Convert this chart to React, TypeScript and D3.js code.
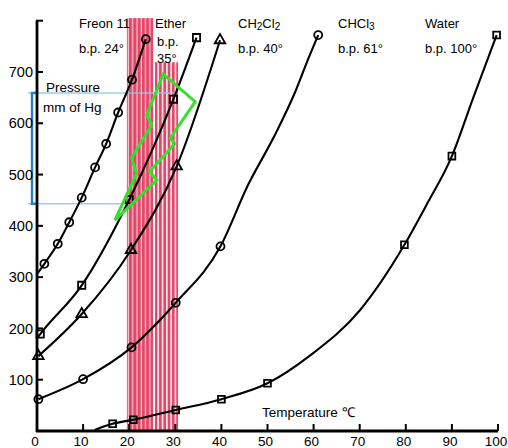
import React, { useEffect, useRef } from 'react';
import * as d3 from 'd3';

// temperature (°C) / vapour pressure (mm Hg)
const freonT = [1.6, 4.5, 7, 9.7, 12.6, 15, 17.6, 20.6, 23.6];
const freonP = [326, 365, 407, 455, 514, 560, 621, 685, 764];
const freonLineT = [0];
const freonLineP = [306];

const etherT = [0.7, 9.7, 20, 29.6, 34.6];
const etherP = [189, 284, 451, 647, 767];
const etherLineT = [0.2];
const etherLineP = [183];

const dcmT = [0.3, 9.7, 20.4, 30.3, 39.7];
const dcmP = [146, 228, 353, 516, 762];

const chcl3T = [0.3, 10, 20.5, 30.1, 39.8, 61];
const chcl3P = [62, 101, 163, 250, 360, 772];
const chcl3LineT = [45.8, 51.6, 56, 58.9];
const chcl3LineP = [480, 577, 661, 727];

const waterT = [16.4, 20.9, 30.1, 40, 50, 79.7, 90, 99.7];
const waterP = [14, 22, 41, 62, 93, 363, 536, 772];
const waterLineT = [12.5, 59.2, 70.1, 84.5, 94.6];
const waterLineP = [2, 147, 236, 441, 649];

const xTicks = [0, 10, 20, 30, 40, 50, 60, 70, 80, 90, 100];
const yTicks = [100, 200, 300, 400, 500, 600, 700, 800];
const yLabels = ['100', '200', '300', '400', '500', '600', '700'];

// shaded band (temperature range, top pressure)
const bandLeft = [19.5, 25.2, 805];
const bandRight = [25.6, 30.6, 719];

// bracket on the pressure axis
const bracketP = [443, 659];
const bracketEndT = [19.2, 30.6];

// green zig-zag annotation
const boltT = [27.4, 34.3, 28.9, 29.9, 24.4, 26.0, 16.9, 21.6, 20.5, 24.9, 23.8];
const boltP = [696, 642, 571, 560, 506, 489, 411, 502, 532, 597, 616];

export default function App() {
  const svgRef = useRef<SVGSVGElement>(null);

  useEffect(() => {
    const svg = d3.select(svgRef.current);
    svg.selectAll('*').remove();
    const font = 'Liberation Sans, Arial, Helvetica, sans-serif';

    const x = d3.scaleLinear().domain([0, 100]).range([37, 498]);
    const y = d3.scaleLinear().domain([0, 800]).range([431, 20.7]);

    const defs = svg.append('defs');
    const mkPattern = (id: string, bg: string, w: number) => {
      const p = defs.append('pattern').attr('id', id)
        .attr('patternUnits', 'userSpaceOnUse').attr('width', 4.3).attr('height', 10);
      p.append('rect').attr('width', 4.3).attr('height', 10).attr('fill', bg);
      p.append('rect').attr('width', w).attr('height', 10).attr('fill', '#e2486a');
    };
    mkPattern('stripeA', '#f6c4ce', 3.1);
    mkPattern('stripeB', '#fbe3e8', 2.6);

    // band
    svg.append('rect')
      .attr('x', x(bandLeft[0])).attr('y', y(bandLeft[2]))
      .attr('width', x(bandLeft[1]) - x(bandLeft[0]))
      .attr('height', y(0) - y(bandLeft[2]))
      .attr('fill', 'url(#stripeA)');
    svg.append('rect')
      .attr('x', x(bandRight[0])).attr('y', y(bandRight[2]))
      .attr('width', x(bandRight[1]) - x(bandRight[0]))
      .attr('height', y(0) - y(bandRight[2]))
      .attr('fill', 'url(#stripeB)');

    // light blue guide lines
    bracketP.forEach((p, i) => {
      svg.append('line')
        .attr('x1', 28).attr('x2', x(bracketEndT[i]))
        .attr('y1', y(p)).attr('y2', y(p))
        .attr('stroke', '#8cc6df').attr('stroke-width', 1.6).attr('opacity', 0.85);
    });
    // blue bracket
    svg.append('path')
      .attr('d', `M36,${y(bracketP[1])}H32V${y(bracketP[0])}H36`)
      .attr('fill', 'none').attr('stroke', '#1f7fd2').attr('stroke-width', 2.4);

    const series = [
      { t: freonT, p: freonP, lt: freonLineT, lp: freonLineP, sym: d3.symbolCircle, size: 50 },
      { t: etherT, p: etherP, lt: etherLineT, lp: etherLineP, sym: d3.symbolSquare, size: 52 },
      { t: dcmT, p: dcmP, lt: [], lp: [], sym: d3.symbolTriangle, size: 48 },
      { t: chcl3T, p: chcl3P, lt: chcl3LineT, lp: chcl3LineP, sym: d3.symbolCircle, size: 50 },
      { t: waterT, p: waterP, lt: waterLineT, lp: waterLineP, sym: d3.symbolSquare, size: 46 },
    ];

    const line = d3.line<[number, number]>()
      .x(d => x(d[0])).y(d => y(d[1]))
      .curve(d3.curveMonotoneX);

    series.forEach(s => {
      const pts: [number, number][] = s.t.map((t, i) => [t, s.p[i]] as [number, number])
        .concat(s.lt.map((t, i) => [t, s.lp[i]] as [number, number]))
        .sort((a, b) => a[0] - b[0]);
      svg.append('path').attr('d', line(pts))
        .attr('fill', 'none').attr('stroke', '#000').attr('stroke-width', 2.1);
      svg.selectAll(null).data(s.t).enter().append('path')
        .attr('d', d3.symbol().type(s.sym).size(s.size)())
        .attr('transform', (t, i) => `translate(${x(t)},${y(s.p[i])})`)
        .attr('fill', 'none').attr('stroke', '#000').attr('stroke-width', 1.8);
    });

    // green bolt
    svg.append('path')
      .attr('d', d3.line<number>().x(t => x(t)).y((t, i) => y(boltP[i]))(boltT) + 'Z')
      .attr('fill', 'none').attr('stroke', '#35e02c').attr('stroke-width', 3)
      .attr('stroke-linejoin', 'miter');

    // axes
    svg.append('path')
      .attr('d', `M${x(0)},${y(0) + 1}V${y(800)}`)
      .attr('stroke', '#000').attr('stroke-width', 2.8).attr('fill', 'none');
    svg.append('path')
      .attr('d', `M${x(0) - 1},${y(0)}H${x(100)}`)
      .attr('stroke', '#000').attr('stroke-width', 2.8).attr('fill', 'none');
    svg.selectAll(null).data(yTicks).enter().append('line')
      .attr('x1', x(0) - 1).attr('x2', x(0) + 6)
      .attr('y1', d => y(d)).attr('y2', d => y(d))
      .attr('stroke', '#000').attr('stroke-width', 2);
    svg.selectAll(null).data(xTicks.slice(1)).enter().append('line')
      .attr('x1', d => x(d)).attr('x2', d => x(d))
      .attr('y1', y(0)).attr('y2', y(0) - 7)
      .attr('stroke', '#000').attr('stroke-width', 2);

    svg.selectAll(null).data(yLabels).enter().append('text')
      .attr('x', 33).attr('y', d => y(+d)).attr('dy', '0.36em')
      .attr('text-anchor', 'end').attr('font-family', font).attr('font-size', 14.5)
      .text(d => d);
    svg.selectAll(null).data(xTicks).enter().append('text')
      .attr('x', d => x(d) - 2).attr('y', 446)
      .attr('text-anchor', 'middle').attr('font-family', font).attr('font-size', 13.5)
      .text(d => d);

    // labels
    const label = (tx: number, ty: number, s: string, size = 13) =>
      svg.append('text').attr('x', tx).attr('y', ty)
        .attr('font-family', font).attr('font-size', size).attr('fill', '#000').text(s);

    label(79, 28, 'Freon 11');
    label(79, 53, 'b.p. 24°');
    label(155, 28, 'Ether');
    label(157, 46, 'b.p.');
    label(157, 63, '35°');
    const ch2 = svg.append('text').attr('x', 238).attr('y', 28)
      .attr('font-family', font).attr('font-size', 13);
    ch2.append('tspan').text('CH');
    ch2.append('tspan').attr('font-size', 10).attr('dy', 2).text('2');
    ch2.append('tspan').attr('dy', -2).text('Cl');
    ch2.append('tspan').attr('font-size', 10).attr('dy', 2).text('2');
    label(238, 53, 'b.p. 40°');
    const chc = svg.append('text').attr('x', 338).attr('y', 28)
      .attr('font-family', font).attr('font-size', 13);
    chc.append('tspan').text('CHCl');
    chc.append('tspan').attr('font-size', 10).attr('dy', 2).text('3');
    label(338, 53, 'b.p. 61°');
    label(425, 28, 'Water');
    label(425, 53, 'b.p. 100°');
    label(46, 92, 'Pressure', 13.5);
    label(43, 112, 'mm of Hg', 13.5);
    label(262, 417, 'Temperature \u2103', 13.5);
  }, []);

  return (
    <svg ref={svgRef} width={508} height={448}
      style={{ position: 'absolute', left: 0, top: 0, background: '#fff' }} />
  );
}
